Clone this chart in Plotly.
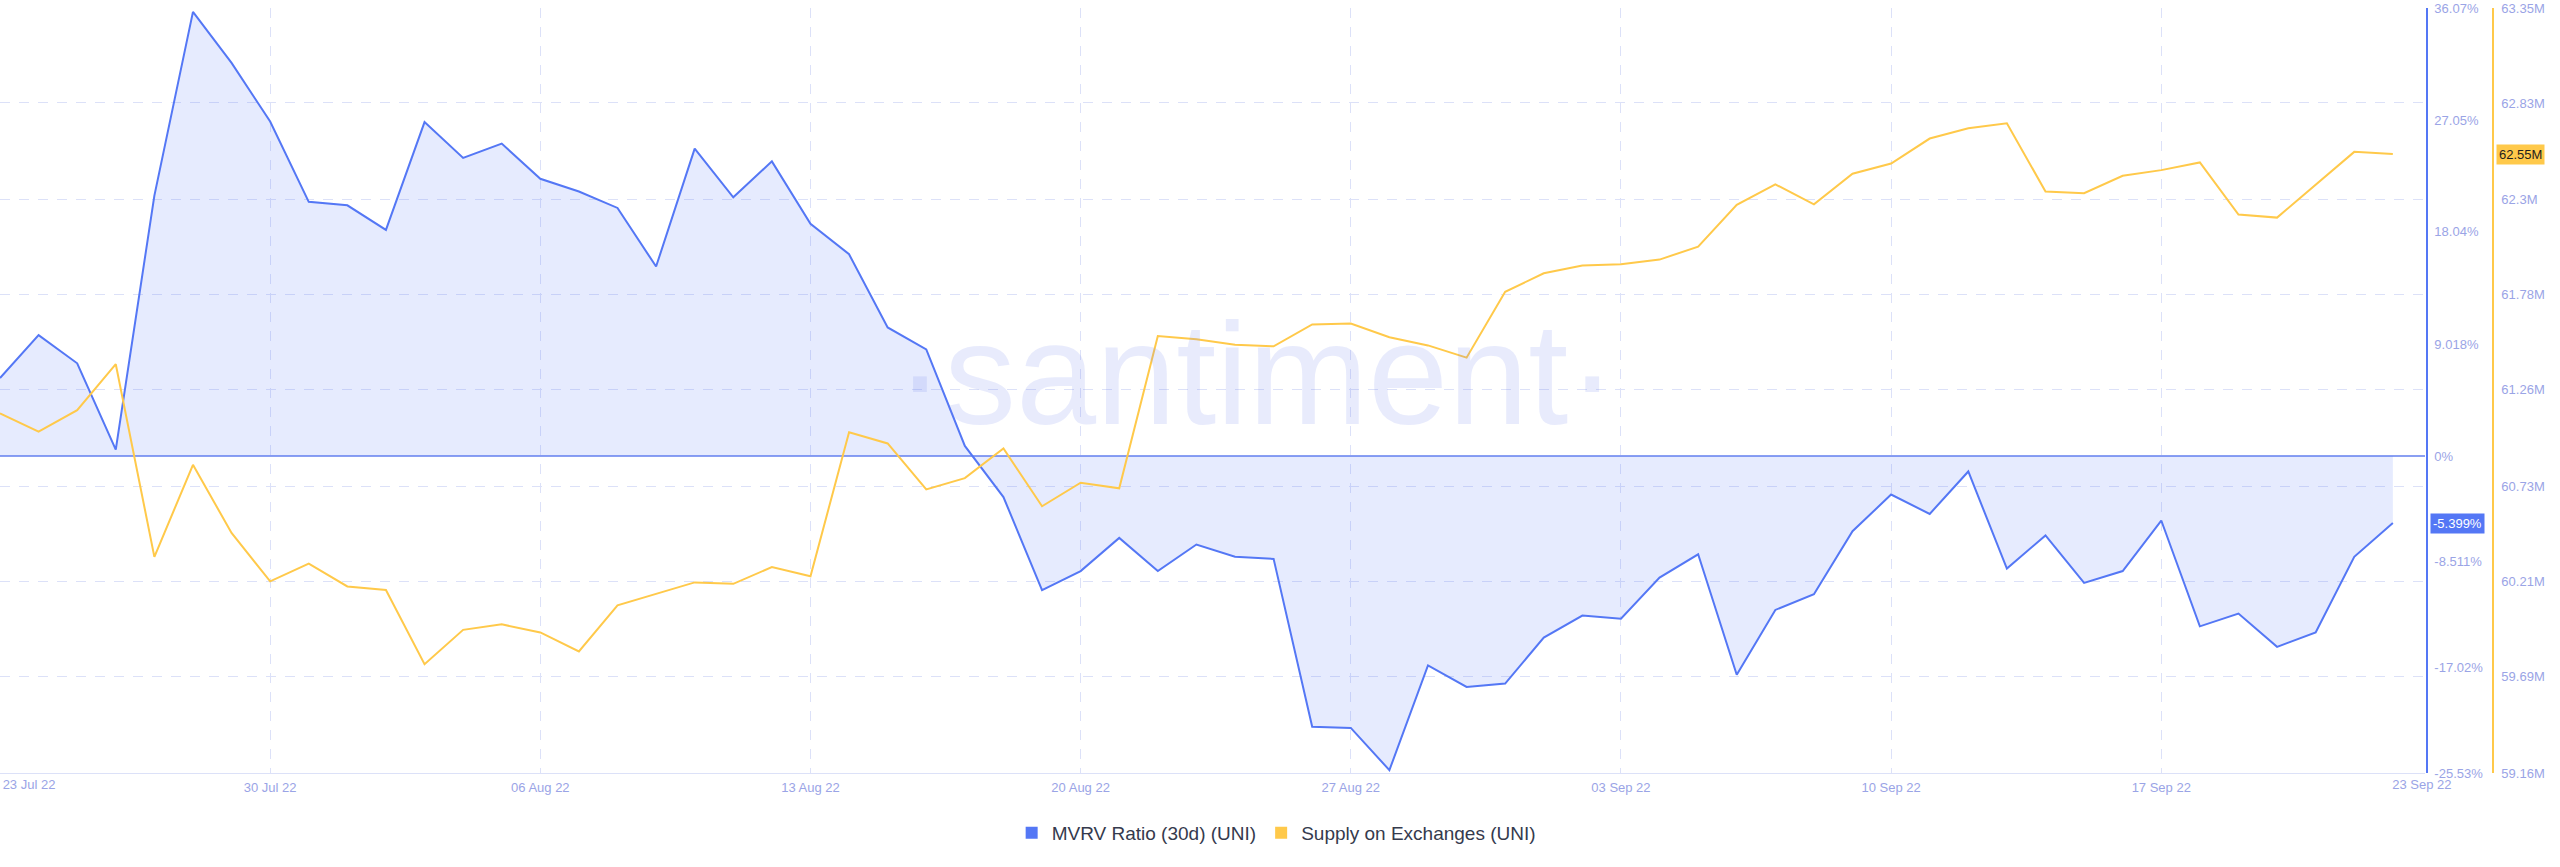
import pandas as pd
import plotly.graph_objects as go

# ---- data ----
dates = pd.date_range("2022-07-23", "2022-09-23", freq="D")

mvrv_30d = [6.27, 9.73, 7.46, 0.51, 20.96, 35.76, 31.65, 26.93, 20.46, 20.18,
            18.20, 26.88, 24.00, 25.15, 22.32, 21.29, 19.97, 15.25, 24.75, 20.83,
            23.72, 18.70, 16.24, 10.35, 8.58, 0.81, -3.31, -10.80, -9.27, -6.60,
            -9.27, -7.13, -8.12, -8.29, -21.80, -21.90, -25.30, -16.87, -18.60, -18.33,
            -14.63, -12.85, -13.11, -9.80, -7.92, -17.62, -12.40, -11.13, -6.06, -3.11,
            -4.67, -1.25, -9.07, -6.40, -10.22, -9.27, -5.20, -13.72, -12.69, -15.37,
            -14.22, -8.12, -5.399]

supply_exch = [61.13, 61.03, 61.147, 61.399, 60.344, 60.848, 60.475, 60.21, 60.307, 60.182,
               60.162, 59.756, 59.944, 59.974, 59.93, 59.826, 60.078, 60.14, 60.204, 60.196,
               60.288, 60.238, 61.026, 60.965, 60.713, 60.775, 60.937, 60.621, 60.75, 60.719,
               61.553, 61.536, 61.505, 61.497, 61.617, 61.622, 61.547, 61.502, 61.435, 61.796,
               61.897, 61.939, 61.947, 61.972, 62.043, 62.272, 62.384, 62.275, 62.442, 62.498,
               62.635, 62.691, 62.719, 62.345, 62.336, 62.431, 62.462, 62.504, 62.219, 62.202,
               62.381, 62.562, 62.55]

mvrv_ticks = [36.07, 27.05, 18.04, 9.018, 0, -8.511, -17.02, -25.53]
mvrv_ticktext = ["36.07%", "27.05%", "18.04%", "9.018%", "0%", "-8.511%", "-17.02%", "-25.53%"]
supply_ticks = [63.35, 62.83, 62.3, 61.78, 61.26, 60.73, 60.21, 59.69, 59.16]
supply_ticktext = ["63.35M", "62.83M", "62.3M", "61.78M", "61.26M", "60.73M", "60.21M", "59.69M", "59.16M"]

week_ticks = list(dates[0:-1:7])
week_text = [""] + [d.strftime("%d %b %y") for d in week_ticks[1:]]
edge_ticks = [dates[0], dates[-1]]
edge_text = [d.strftime("%d %b %y") for d in edge_ticks]

# ---- style ----
W, H = 2560, 867
BLUE = "#5477f5"
YELLOW = "#ffc94a"
GRID = "#dce1f8"
TICK = "#9aa4e6"
FONT = "Liberation Sans"

x_end = dates[-1] + pd.Timedelta(hours=20)
xrange_ = [dates[0], x_end]
dom_right = 2425 / W

fig = go.Figure()

fig.add_trace(go.Scatter(
    x=dates, y=mvrv_30d, mode="lines", name="MVRV Ratio (30d) (UNI)",
    line=dict(color=BLUE, width=2), fill="tozeroy",
    fillcolor="rgba(84,119,245,0.15)", showlegend=False,
    xaxis="x", yaxis="y"))

fig.add_trace(go.Scatter(
    x=dates, y=supply_exch, mode="lines", name="Supply on Exchanges (UNI)",
    line=dict(color=YELLOW, width=2), showlegend=False,
    xaxis="x2", yaxis="y2"))

# legend proxies (square swatches)
fig.add_trace(go.Scatter(x=[None], y=[None], mode="markers", name="MVRV Ratio (30d) (UNI)",
                         marker=dict(color=BLUE, symbol="square", size=12),
                         showlegend=True, xaxis="x", yaxis="y"))
fig.add_trace(go.Scatter(x=[None], y=[None], mode="markers", name="Supply on Exchanges (UNI)",
                         marker=dict(color=YELLOW, symbol="square", size=12),
                         showlegend=True, xaxis="x", yaxis="y"))

fig.update_layout(
    width=W, height=H,
    margin=dict(l=0, r=0, t=8, b=94, autoexpand=False),
    paper_bgcolor="white", plot_bgcolor="white",
    font=dict(family=FONT, size=13, color=TICK),
    xaxis=dict(
        type="date", domain=[0, dom_right], range=xrange_, automargin=False,
        tickmode="array", tickvals=week_ticks, ticktext=week_text,
        showgrid=True, gridcolor=GRID, griddash="10px,9px", gridwidth=1,
        showline=True, linecolor=GRID, linewidth=1,
        ticks="", ticklabelstandoff=2, zeroline=False,
        tickfont=dict(family=FONT, size=13, color=TICK),
    ),
    xaxis2=dict(
        type="date", domain=[0, dom_right], range=xrange_, overlaying="x",
        anchor="y", side="bottom", automargin=False,
        tickmode="array", tickvals=edge_ticks, ticktext=edge_text,
        showgrid=False, showline=False, ticks="", ticklabelstandoff=2,
        ticklabelshift=29, zeroline=False,
        tickfont=dict(family=FONT, size=13, color=TICK),
    ),
    yaxis=dict(
        range=[-25.53, 36.07], side="right", anchor="free", position=2427 / W,
        automargin=False,
        tickmode="array", tickvals=mvrv_ticks, ticktext=mvrv_ticktext,
        showgrid=False, zeroline=True, zerolinecolor="#8a9ff2", zerolinewidth=1.5,
        showline=True, linecolor=BLUE, linewidth=1.5,
        ticks="", ticklabelstandoff=4,
        tickfont=dict(family=FONT, size=13, color=TICK),
    ),
    yaxis2=dict(
        range=[59.16, 63.35], side="right", anchor="free", position=2493 / W,
        overlaying="y", automargin=False,
        tickmode="array", tickvals=supply_ticks, ticktext=supply_ticktext,
        showgrid=True, gridcolor=GRID, griddash="10px,9px", gridwidth=1,
        zeroline=False, showline=True, linecolor=YELLOW, linewidth=1.5,
        ticks="", ticklabelstandoff=5,
        tickfont=dict(family=FONT, size=13, color=TICK),
    ),
    legend=dict(
        orientation="h", x=0.4985, xanchor="center", y=-60 / 765, yanchor="middle",
        font=dict(family=FONT, size=19, color="#353a4d"),
        itemclick=False, bgcolor="rgba(0,0,0,0)",
    ),
    annotations=[
        dict(text="\u00b7santiment\u00b7", xref="paper", yref="paper",
             x=1256 / W, y=(773 - 374) / 765, xanchor="center", yanchor="middle",
             showarrow=False,
             font=dict(family=FONT, size=144, color="rgba(110,130,235,0.16)")),
        dict(text=f"{mvrv_30d[-1]:.3f}%", xref="paper", yref="y",
             x=2430 / W, y=mvrv_30d[-1], xanchor="left", yanchor="middle",
             showarrow=False, bgcolor=BLUE, borderpad=2,
             font=dict(family=FONT, size=13, color="white")),
        dict(text=f"{supply_exch[-1]:.2f}M", xref="paper", yref="y2",
             x=2496 / W, y=supply_exch[-1], xanchor="left", yanchor="middle",
             showarrow=False, bgcolor=YELLOW, borderpad=2,
             font=dict(family=FONT, size=13, color="#1e1e1e")),
    ],
)

fig.write_html("out.html",
               config={"displayModeBar": False},
               post_script="document.body.style.margin='0';document.body.style.padding='0';"
                           "document.documentElement.style.overflow='hidden';")
